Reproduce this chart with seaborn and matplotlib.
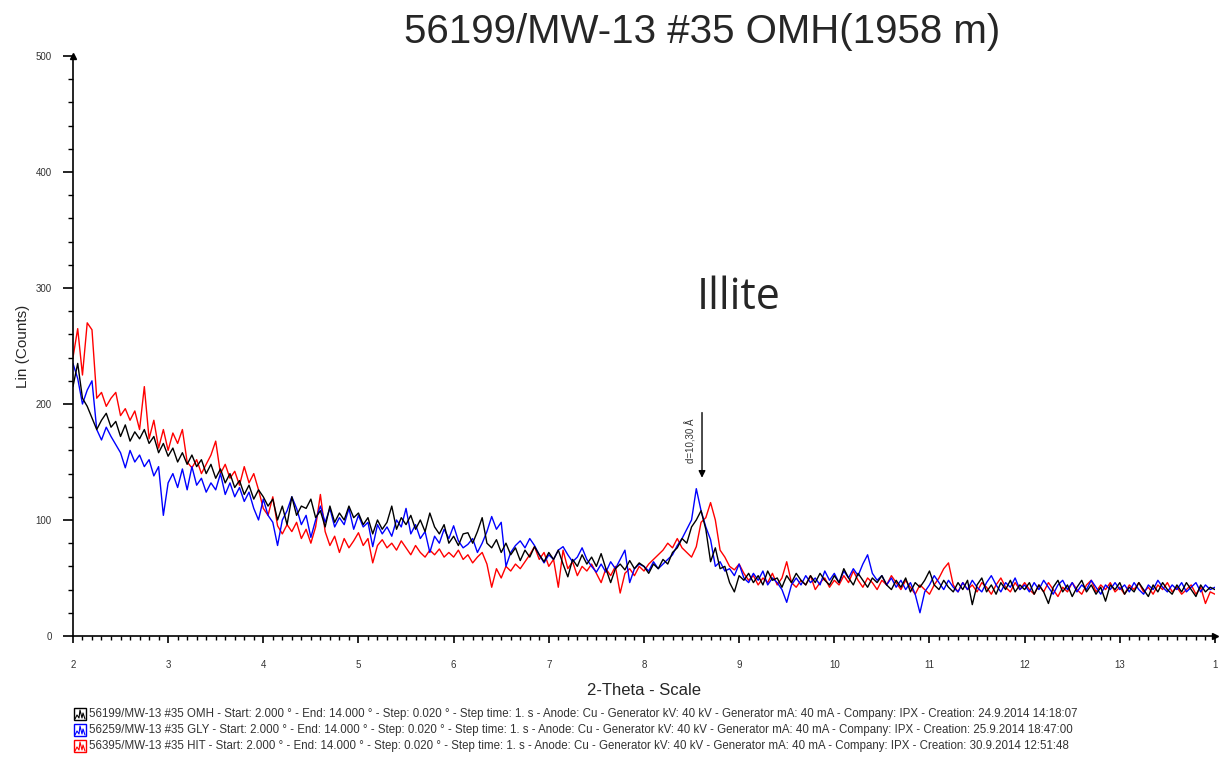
import numpy as np
import pandas as pd
import matplotlib
matplotlib.use('Agg')
import matplotlib.pyplot as plt
from matplotlib.patches import Rectangle
from matplotlib.lines import Line2D
import seaborn as sns

# scan: 2-14 deg 2-theta, values every 0.05 deg
start_2theta = 2.0
step_2theta = 0.05

omh = [215, 235, 205, 198, 188, 178, 186, 192, 180, 185, 172, 182, 168, 176, 170, 178, 166, 172, 158, 166,
       155, 162, 150, 158, 148, 156, 146, 152, 140, 148, 136, 144, 132, 140, 128, 134, 122, 130, 118, 126,
       120, 112, 118, 100, 112, 96, 120, 104, 112, 110, 118, 102, 108, 94, 112, 98, 106, 100, 112, 102,
       106, 96, 102, 88, 100, 92, 98, 112, 92, 102, 96, 104, 92, 100, 90, 106, 94, 88, 96, 80,
       86, 78, 88, 89, 80, 90, 102, 80, 76, 83, 72, 80, 70, 76, 65, 74, 68, 77, 70, 64,
       72, 66, 74, 62, 51, 66, 60, 70, 62, 68, 60, 71, 58, 46, 58, 62, 57, 65, 58, 63,
       60, 54, 62, 58, 66, 62, 72, 76, 84, 80, 94, 100, 108, 92, 64, 76, 58, 60, 46, 38,
       52, 48, 54, 46, 52, 44, 56, 48, 50, 42, 52, 46, 54, 48, 44, 52, 46, 54, 48, 44,
       52, 46, 58, 50, 44, 54, 48, 42, 50, 46, 52, 44, 40, 48, 42, 50, 38, 46, 42, 48,
       56, 44, 40, 48, 42, 38, 46, 40, 48, 27, 44, 50, 38, 44, 36, 46, 40, 48, 38, 44,
       40, 46, 36, 44, 38, 28, 42, 48, 38, 44, 34, 42, 48, 38, 44, 36, 42, 30, 44, 40,
       46, 36, 42, 38, 46, 40, 34, 44, 38, 46, 40, 36, 44, 38, 46, 40, 34, 44, 38, 42, 40]

gly = [235, 222, 200, 212, 220, 178, 169, 180, 172, 165, 158, 145, 160, 150, 156, 146, 152, 138, 146, 104,
       132, 140, 128, 144, 126, 146, 130, 136, 124, 132, 126, 140, 122, 132, 120, 128, 116, 124, 110, 100,
       118, 104, 98, 78, 100, 108, 120, 110, 96, 104, 85, 100, 112, 98, 110, 94, 102, 96, 110, 92,
       104, 94, 98, 77, 96, 88, 94, 86, 100, 94, 110, 88, 96, 84, 90, 72, 86, 80, 92, 84,
       95, 82, 76, 79, 84, 72, 80, 90, 103, 92, 98, 60, 72, 78, 82, 76, 84, 78, 70, 63,
       70, 66, 74, 77, 70, 64, 68, 76, 66, 60, 55, 62, 55, 64, 58, 66, 74, 46, 58, 62,
       60, 56, 64, 58, 62, 66, 70, 78, 84, 92, 100, 127, 108, 94, 83, 60, 64, 56, 58, 52,
       62, 50, 46, 54, 48, 56, 44, 50, 46, 40, 29, 44, 50, 44, 52, 46, 50, 44, 56, 48,
       54, 46, 56, 50, 58, 52, 62, 70, 54, 48, 52, 44, 50, 42, 48, 40, 46, 36, 20, 38,
       44, 52, 46, 40, 48, 42, 38, 46, 40, 48, 42, 38, 46, 52, 44, 38, 46, 42, 50, 40,
       44, 38, 46, 40, 48, 42, 36, 44, 48, 40, 46, 38, 44, 40, 48, 42, 36, 44, 40, 46,
       40, 44, 38, 46, 40, 36, 44, 40, 48, 42, 38, 44, 40, 46, 38, 42, 46, 38, 44, 40, 42]

hit = [240, 265, 225, 270, 264, 205, 210, 198, 205, 210, 190, 196, 186, 194, 178, 215, 170, 186, 162, 178,
       160, 175, 166, 178, 150, 145, 152, 140, 148, 156, 168, 140, 148, 136, 142, 130, 146, 132, 140, 126,
       110, 104, 120, 95, 88, 96, 90, 98, 84, 92, 80, 94, 122, 90, 78, 86, 72, 84, 76, 82,
       89, 78, 84, 63, 78, 83, 76, 80, 74, 82, 76, 70, 78, 72, 68, 74, 70, 75, 68, 72,
       68, 74, 66, 70, 63, 68, 72, 62, 42, 58, 50, 60, 56, 62, 58, 64, 70, 77, 66, 72,
       60, 66, 42, 74, 58, 64, 52, 60, 56, 62, 54, 46, 58, 52, 60, 37, 54, 58, 52, 60,
       56, 62, 66, 70, 74, 80, 76, 84, 76, 72, 68, 77, 98, 102, 115, 100, 74, 68, 60, 57,
       62, 54, 48, 52, 44, 50, 46, 54, 44, 50, 64, 46, 42, 48, 44, 52, 40, 46, 50, 42,
       48, 44, 52, 46, 56, 48, 42, 50, 46, 40, 48, 44, 52, 46, 40, 48, 42, 36, 44, 40,
       36, 44, 50, 58, 63, 44, 38, 46, 40, 44, 38, 46, 42, 36, 44, 50, 42, 38, 46, 40,
       46, 40, 36, 44, 38, 46, 40, 34, 42, 38, 46, 40, 36, 44, 48, 38, 44, 40, 46, 38,
       42, 36, 44, 40, 46, 38, 42, 36, 44, 40, 46, 38, 42, 36, 40, 44, 36, 42, 28, 38, 36]

scan_names = ['OMH', 'GLY', 'HIT']
scan_colors = {'OMH': '#000000', 'GLY': '#0000ff', 'HIT': '#ff0000'}

x_ticks = [2, 3, 4, 5, 6, 7, 8, 9, 10, 11, 12, 13, 14]
x_tick_labels = ['2', '3', '4', '5', '6', '7', '8', '9', '10', '11', '12', '13', '1']
y_ticks = [0, 100, 200, 300, 400, 500]

legend_lines = [
    "56199/MW-13 #35 OMH - Start: 2.000 ° - End: 14.000 ° - Step: 0.020 ° - Step time: 1. s - Anode: Cu - Generator kV: 40 kV - Generator mA: 40 mA - Company: IPX - Creation: 24.9.2014 14:18:07",
    "56259/MW-13 #35 GLY - Start: 2.000 ° - End: 14.000 ° - Step: 0.020 ° - Step time: 1. s - Anode: Cu - Generator kV: 40 kV - Generator mA: 40 mA - Company: IPX - Creation: 25.9.2014 18:47:00",
    "56395/MW-13 #35 HIT - Start: 2.000 ° - End: 14.000 ° - Step: 0.020 ° - Step time: 1. s - Anode: Cu - Generator kV: 40 kV - Generator mA: 40 mA - Company: IPX - Creation: 30.9.2014 12:51:48",
]

frames = []
for name, vals in zip(scan_names, [omh, gly, hit]):
    tt = start_2theta + step_2theta * np.arange(len(vals))
    frames.append(pd.DataFrame({'two_theta': tt, 'counts': vals, 'scan': name}))
df = pd.concat(frames, ignore_index=True)

sns.set_style('white')
plt.rcParams['font.family'] = ['Liberation Sans', 'DejaVu Sans']

fig = plt.figure(figsize=(12.26, 7.58), dpi=100)
ax = fig.add_axes([0.0595, 0.161, 0.9315, 0.765])

# draw black last so it sits on top like in the original
for name in ['HIT', 'GLY', 'OMH']:
    sns.lineplot(data=df[df['scan'] == name], x='two_theta', y='counts',
                 color=scan_colors[name], lw=1.0, estimator=None, sort=False,
                 legend=False, ax=ax)

ax.set_xlim(2, 14)
ax.set_ylim(0, 500)
for s in ['top', 'right']:
    ax.spines[s].set_visible(False)
for s in ['left', 'bottom']:
    ax.spines[s].set_color('black')
    ax.spines[s].set_linewidth(1.2)

ax.set_xticks(x_ticks)
ax.set_xticklabels(x_tick_labels)
ax.set_xticks(np.arange(2, 14.01, 0.1), minor=True)
ax.set_yticks(y_ticks)
ax.set_yticks(np.arange(0, 501, 20), minor=True)
ax.tick_params(axis='both', which='both', bottom=True, left=True, top=False, right=False)
ax.tick_params(axis='both', which='major', direction='out', width=1.2,
               labelsize=7, colors='black', labelcolor='#333333')
ax.tick_params(axis='both', which='minor', direction='out', width=1, colors='black')
ax.tick_params(axis='x', which='major', length=5, pad=12)
ax.tick_params(axis='x', which='minor', length=3)
ax.tick_params(axis='y', which='major', length=7.2, pad=8)
ax.tick_params(axis='y', which='minor', length=3.6)

ax.set_xlabel('2-Theta - Scale', fontsize=12)
ax.set_ylabel('Lin (Counts)', fontsize=11)
ax.xaxis.set_label_coords(0.5, -0.081)
ax.yaxis.set_label_coords(-0.038, 0.5)

# axis end arrows
ax.plot([0], [1], marker='^', ms=4, color='black', transform=ax.transAxes, clip_on=False)
ax.plot([1], [0], marker='>', ms=4, color='black', transform=ax.transAxes, clip_on=False)

# peak marker
ax.annotate('', xy=(8.61, 134), xytext=(8.61, 195),
            arrowprops=dict(arrowstyle='-|>', color='black', lw=1, mutation_scale=10))
ax.text(8.49, 168, 'd=10,30 Å', rotation=90, fontsize=7, ha='center', va='center', color='#333333')

ax.text(8.55, 292, 'Illite', fontsize=31, ha='left', va='center',
        family=['Open Sans', 'DejaVu Sans'])

fig.text(0.573, 0.958, '56199/MW-13 #35 OMH(1958 m)', fontsize=29, ha='center', va='center')

# legend rows at the bottom
for i, (name, line) in enumerate(zip(scan_names, legend_lines)):
    yc = 1 - (714 + 16 * i) / 758
    fig.add_artist(Rectangle((74 / 1226, yc - 6 / 758), 12 / 1226, 12 / 758,
                             fill=False, edgecolor=scan_colors[name], lw=1, transform=fig.transFigure))
    ix = np.array([75, 77, 79, 80, 82, 83, 85]) / 1226
    iy = yc + np.array([-5, -1, -4, 4, -4, 1, -5]) / 758
    fig.add_artist(Line2D(ix, iy, color=scan_colors[name], lw=0.8, transform=fig.transFigure))
    fig.text(89 / 1226, yc, line, fontsize=8.3, ha='left', va='center', color='#333333')

fig.savefig('out.png', dpi=100)
